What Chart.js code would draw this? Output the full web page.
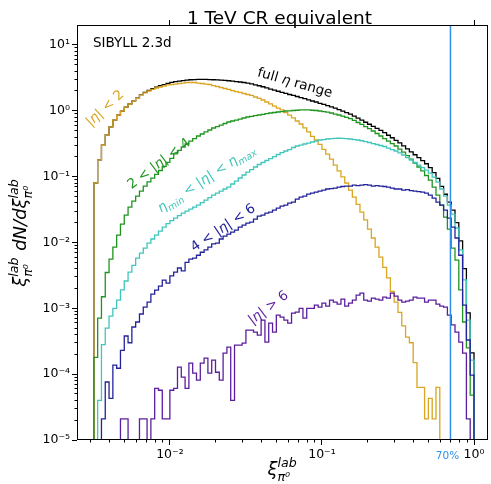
<!DOCTYPE html>
<html>
<head>
<meta charset="utf-8">
<script src="https://cdn.jsdelivr.net/npm/chart.js@4.4.1/dist/chart.umd.min.js"></script>
<style>
  html, body { margin: 0; padding: 0; background: #fff; }
  #wrap { width: 491px; height: 484px; }
</style>
</head>
<body>
<div id="wrap"><canvas id="xiChart" width="491" height="484"></canvas></div>
<script>
// histogram binning (log10 of xi), 100 bins
const BIN_START = -2.5;
const BIN_STEP = 0.025;

// xi dN/dxi per bin
const fullRange = [
  0.080, 0.18, 0.30, 0.43, 0.57, 0.72, 0.86, 0.99, 1.14, 1.27,
  1.42, 1.56, 1.76, 1.90, 2.04, 2.17, 2.29, 2.40, 2.50, 2.60,
  2.70, 2.77, 2.83, 2.88, 2.93, 2.96, 2.98, 3.00, 3.00, 3.00,
  2.98, 2.96, 2.94, 2.92, 2.89, 2.86, 2.82, 2.78, 2.74, 2.69,
  2.63, 2.56, 2.48, 2.40, 2.32, 2.23, 2.14, 2.06, 1.98, 1.91,
  1.84, 1.77, 1.71, 1.65, 1.59, 1.53, 1.47, 1.41, 1.36, 1.30,
  1.25, 1.20, 1.15, 1.10, 1.04, 0.99, 0.94, 0.89, 0.83, 0.775,
  0.72, 0.67, 0.625, 0.58, 0.54, 0.505, 0.465, 0.425, 0.39, 0.356,
  0.326, 0.294, 0.264, 0.238, 0.215, 0.194, 0.175, 0.157, 0.137, 0.115,
  0.094, 0.071, 0.054, 0.041, 0.031, 0.020, 0.0106, 0.0040, 8.5e-4, 2.1e-4
];
const etaLt2 = [
  0.080, 0.18, 0.30, 0.43, 0.57, 0.72, 0.86, 0.99, 1.14, 1.27,
  1.41, 1.54, 1.74, 1.87, 2.00, 2.11, 2.22, 2.30, 2.38, 2.47,
  2.51, 2.55, 2.60, 2.64, 2.69, 2.69, 2.69, 2.64, 2.60, 2.55,
  2.51, 2.42, 2.34, 2.26, 2.18, 2.11, 2.03, 1.96, 1.90, 1.83,
  1.77, 1.71, 1.62, 1.54, 1.46, 1.36, 1.27, 1.18, 1.10, 1.03,
  0.94, 0.86, 0.78, 0.70, 0.63, 0.55, 0.48, 0.41, 0.36, 0.31,
  0.26, 0.22, 0.185, 0.15, 0.122, 0.099, 0.080, 0.0625, 0.049, 0.038,
  0.029, 0.022, 0.016, 0.0117, 0.0085, 0.0060, 0.0042, 0.0029, 0.0018, 0.00124,
  8.7e-4, 5.4e-4, 3.65e-4, 3.0e-4, 1.5e-4, 6.3e-5, 6.3e-5, 2.1e-5, 4.3e-5, 2.1e-5,
  6.3e-5, 0, 0, 0, 0, 0, 0, 0, 0, 0
];
const eta2to4 = [
  1.8e-4, 7.1e-4, 1.5e-3, 3.5e-3, 5.6e-3, 8.5e-3, 0.0129, 0.019, 0.026, 0.0345,
  0.0426, 0.0507, 0.0604, 0.072, 0.083, 0.095, 0.108, 0.124, 0.143, 0.165,
  0.19, 0.222, 0.25, 0.282, 0.313, 0.347, 0.379, 0.414, 0.444, 0.477,
  0.511, 0.548, 0.577, 0.608, 0.641, 0.676, 0.70, 0.724, 0.75, 0.778,
  0.805, 0.825, 0.845, 0.863, 0.885, 0.904, 0.926, 0.942, 0.959, 0.975,
  0.993, 1.00, 1.01, 1.02, 1.03, 1.03, 1.03, 1.02, 1.01, 0.993,
  0.975, 0.953, 0.926, 0.893, 0.863, 0.833, 0.797, 0.758, 0.713, 0.664,
  0.62, 0.577, 0.538, 0.493, 0.452, 0.414, 0.379, 0.347, 0.318, 0.292,
  0.262, 0.236, 0.209, 0.185, 0.161, 0.140, 0.122, 0.104, 0.0887, 0.0695,
  0.0525, 0.037, 0.0243, 0.016, 8.2e-3, 5.4e-3, 1.9e-3, 6.2e-4, 2.5e-4, 4.8e-5
];
const etaAccept = [
  0, 4.0e-5, 2.8e-4, 5.0e-4, 7.6e-4, 1.0e-3, 1.33e-3, 1.9e-3, 2.6e-3, 3.55e-3,
  4.5e-3, 5.8e-3, 6.9e-3, 8.2e-3, 9.8e-3, 0.0113, 0.0129, 0.0149, 0.0171, 0.0194,
  0.0215, 0.0235, 0.0256, 0.028, 0.030, 0.0322, 0.0345, 0.037, 0.0404, 0.044,
  0.0481, 0.0525, 0.0563, 0.0604, 0.0649, 0.0695, 0.0773, 0.0857, 0.0953, 0.106,
  0.117, 0.128, 0.140, 0.153, 0.164, 0.176, 0.188, 0.202, 0.217, 0.232,
  0.245, 0.258, 0.277, 0.292, 0.302, 0.313, 0.324, 0.336, 0.347, 0.36,
  0.366, 0.373, 0.379, 0.382, 0.383, 0.382, 0.379, 0.373, 0.366, 0.36,
  0.351, 0.341, 0.33, 0.318, 0.308, 0.297, 0.287, 0.272, 0.258, 0.245,
  0.229, 0.213, 0.195, 0.179, 0.164, 0.150, 0.137, 0.126, 0.113, 0.0986,
  0.0828, 0.0649, 0.0507, 0.037, 0.027, 0.0166, 7.7e-3, 2.7e-3, 6.6e-4, 1.63e-4
];
const eta4to6 = [
  0, 0, 2.1e-5, 7.6e-5, 4.3e-5, 1.37e-4, 1.23e-4, 2.3e-4, 3.8e-4, 3.0e-4,
  5.2e-4, 6.2e-4, 8.2e-4, 1.04e-3, 1.24e-3, 1.64e-3, 1.89e-3, 2.17e-3, 2.69e-3, 2.42e-3,
  3.1e-3, 3.55e-3, 4.1e-3, 3.7e-3, 5.0e-3, 5.6e-3, 5.8e-3, 6.4e-3, 7.1e-3, 7.7e-3,
  8.5e-3, 9.5e-3, 9.8e-3, 0.0113, 0.0125, 0.0134, 0.0144, 0.0154, 0.0171, 0.0184,
  0.0197, 0.0204, 0.0227, 0.0252, 0.026, 0.028, 0.029, 0.031, 0.0333, 0.0357,
  0.037, 0.0397, 0.0411, 0.0457, 0.049, 0.0507, 0.0544, 0.0563, 0.0583, 0.0604,
  0.0625, 0.0649, 0.0659, 0.0671, 0.0695, 0.0708, 0.072, 0.072, 0.0745, 0.0732,
  0.0745, 0.0758, 0.0745, 0.072, 0.0732, 0.072, 0.0708, 0.0695, 0.0671, 0.0649,
  0.0649, 0.0625, 0.0637, 0.0615, 0.0604, 0.0594, 0.0583, 0.0563, 0.0525, 0.0473,
  0.0411, 0.037, 0.031, 0.0235, 0.0171, 0.0117, 6.4e-3, 1.12e-3, 3.3e-4, 9.7e-5
];
const etaGt6 = [
  0, 0, 0, 0, 0, 0, 0, 2.1e-5, 2.1e-5, 0,
  0, 0, 2.1e-5, 2.1e-5, 0, 2.1e-5, 6.1e-5, 5.7e-5, 2.1e-5, 2.1e-5,
  5.7e-5, 6.1e-5, 1.28e-4, 9.0e-5, 6.1e-5, 1.47e-4, 1.04e-4, 8.1e-5, 1.47e-4, 1.75e-4,
  1.04e-4, 1.63e-4, 1.07e-4, 8.1e-5, 2.08e-4, 2.57e-4, 4.0e-5, 2.76e-4, 2.76e-4, 2.96e-4,
  4.67e-4, 4.67e-4, 4.35e-4, 3.92e-4, 6.6e-4, 3.06e-4, 5.96e-4, 4.35e-4, 7.9e-4, 7.35e-4,
  6.6e-4, 5.96e-4, 8.45e-4, 8.75e-4, 1.0e-3, 7.1e-4, 1.0e-3, 1.0e-3, 1.12e-3, 1.04e-3,
  1.2e-3, 1.08e-3, 1.33e-3, 1.24e-3, 1.16e-3, 1.38e-3, 1.08e-3, 1.2e-3, 1.33e-3, 1.59e-3,
  1.70e-3, 1.33e-3, 1.29e-3, 1.43e-3, 1.38e-3, 1.33e-3, 1.48e-3, 1.43e-3, 1.70e-3, 1.53e-3,
  1.33e-3, 1.24e-3, 1.29e-3, 1.33e-3, 1.48e-3, 1.43e-3, 1.43e-3, 1.24e-3, 1.33e-3, 1.33e-3,
  1.16e-3, 1.08e-3, 1.04e-3, 7.9e-4, 5.6e-4, 4.35e-4, 3.06e-4, 2.08e-4, 2.1e-5, 0
];

const cutXi = 0.7;
const cutLabel = '70%';

const xMajorTicks = [0.01, 0.1, 1];
const xTickLabels = ['10⁻²', '10⁻¹', '10⁰'];
const xMinorTicks = [0.003, 0.004, 0.005, 0.006, 0.007, 0.008, 0.009,
  0.02, 0.03, 0.04, 0.05, 0.06, 0.07, 0.08, 0.09,
  0.2, 0.3, 0.4, 0.5, 0.6, 0.7, 0.8, 0.9];
const xTopTicks = [0.01, 1];
const yMajorTicks = [1e-5, 1e-4, 1e-3, 1e-2, 1e-1, 1, 10];
const yTickLabels = ['10⁻⁵', '10⁻⁴', '10⁻³', '10⁻²', '10⁻¹', '10⁰', '10¹'];
const yMinorTicks = [1e-5, 1e-4, 1e-3, 1e-2, 1e-1, 1]
  .flatMap(d => [2, 3, 4, 5, 6, 7, 8, 9].map(m => m * d));

const X_MIN = 0.00245, X_MAX = 1.236;
const Y_MIN = 1e-5, Y_MAX = 20.1;
const Y_FLOOR = 1e-7; // empty bins drop below the axis, like a step histogram

const colFull = '#000000';
const colLt2 = '#daa520';
const col2to4 = '#1f951f';
const colAcc = '#3fc6bb';
const col4to6 = '#23239b';
const colGt6 = '#5b1f9e';
const colCut = '#2e8fea';

const FONT = 'DejaVu Sans';
Chart.defaults.font.family = FONT;

const edges = Array.from({ length: fullRange.length + 1 }, (_, i) => Math.pow(10, BIN_START + BIN_STEP * i));

function histPoints(values) {
  const pts = [{ x: edges[0], y: Y_FLOOR }];
  values.forEach((v, i) => pts.push({ x: edges[i], y: v > 0 ? v : Y_FLOOR }));
  pts.push({ x: edges[values.length], y: Y_FLOOR });
  return pts;
}

function histSet(values, color) {
  return {
    data: histPoints(values),
    borderColor: color,
    borderWidth: 1.3,
    stepped: 'before',
    pointRadius: 0,
    fill: false,
    xAxisID: 'x',
    yAxisID: 'y'
  };
}

// --- mathtext-like rich text: segments [text, mode], mode '' | 'i' | 'sup' | 'sub'
function segFont(mode, fs) {
  const small = mode === 'sup' || mode === 'sub';
  return (mode ? 'italic ' : '') + (small ? fs * 0.7 : fs) + 'px "' + FONT + '"';
}
function drawRich(ctx, segs, fs, cx, cy, angle, color, align) {
  const items = [];
  let x = 0;
  for (let i = 0; i < segs.length; i++) {
    const [t, mode] = segs[i];
    const font = segFont(mode, fs);
    ctx.font = font;
    const w = ctx.measureText(t).width;
    const dy = mode === 'sup' ? -0.45 * fs : mode === 'sub' ? 0.28 * fs : 0;
    items.push({ t, font, x, dy });
    if (mode === 'sup' && segs[i + 1] && segs[i + 1][1] === 'sub') {
      const f2 = segFont('sub', fs);
      ctx.font = f2;
      const w2 = ctx.measureText(segs[i + 1][0]).width;
      items.push({ t: segs[i + 1][0], font: f2, x, dy: 0.32 * fs });
      x += Math.max(w, w2) + 1;
      i++;
    } else {
      x += w;
    }
  }
  const x0 = align === 'left' ? 0 : -x / 2;
  ctx.save();
  ctx.translate(cx, cy);
  ctx.rotate(angle * Math.PI / 180);
  ctx.fillStyle = color;
  ctx.textAlign = 'left';
  ctx.textBaseline = 'alphabetic';
  items.forEach(it => {
    ctx.font = it.font;
    ctx.fillText(it.t, x0 + it.x, it.dy + 0.36 * fs);
  });
  ctx.restore();
}

// curve labels, anchored in data coordinates
const curveLabels = [
  { segs: [['full ', ''], ['η', 'i'], [' range', '']], x: 0.0667, y: 2.74, angle: 16, color: colFull },
  { segs: [['|', ''], ['η', 'i'], ['| < 2', '']], x: 0.0037, y: 1.12, angle: -43, color: colLt2 },
  { segs: [['2 < |', ''], ['η', 'i'], ['| < 4', '']], x: 0.0084, y: 0.162, angle: -37, color: col2to4 },
  { segs: [['η', 'i'], ['min', 'sub'], [' < |', ''], ['η', 'i'], ['| < ', ''], ['η', 'i'], ['max', 'sub']], x: 0.0172, y: 0.096, angle: -33, color: colAcc },
  { segs: [['4 < |', ''], ['η', 'i'], ['| < 6', '']], x: 0.0222, y: 0.0172, angle: -34, color: col4to6 },
  { segs: [['|', ''], ['η', 'i'], ['| > 6', '']], x: 0.044, y: 1.05e-3, angle: -37, color: colGt6 }
];
const xiSegs = [['ξ', 'i'], ['lab', 'sup'], ['π⁰', 'sub']];

const textLayer = {
  id: 'textLayer',
  afterDatasetsDraw(chart) {
    const { ctx, chartArea: a, scales } = chart;
    ctx.save();
    // axes frame on top of the histograms
    ctx.strokeStyle = '#000';
    ctx.lineWidth = 1;
    ctx.strokeRect(Math.round(a.left) + 0.5, Math.round(a.top) + 0.5,
      Math.round(a.right - a.left) - 1, Math.round(a.bottom - a.top) - 1);

    curveLabels.forEach(l => {
      drawRich(ctx, l.segs, 13.5, scales.x.getPixelForValue(l.x), scales.y.getPixelForValue(l.y), l.angle, l.color);
    });

    ctx.fillStyle = '#000';
    ctx.font = '13.5px "' + FONT + '"';
    ctx.textAlign = 'left';
    ctx.textBaseline = 'alphabetic';
    ctx.fillText('SIBYLL 2.3d', a.left + 16, a.top + 22);

    ctx.font = '18.5px "' + FONT + '"';
    ctx.textAlign = 'center';
    ctx.fillText('1 TeV CR equivalent', (a.left + a.right) / 2 - 3, 24);

    ctx.fillStyle = colCut;
    ctx.font = '10.5px "' + FONT + '"';
    ctx.fillText(cutLabel, scales.x.getPixelForValue(cutXi) - 3, a.bottom + 19);

    drawRich(ctx, xiSegs, 18, (a.left + a.right) / 2, 469, 0, '#000');
    drawRich(ctx, xiSegs.concat([[' dN/dξ', 'i'], ['lab', 'sup'], ['π⁰', 'sub']]), 18,
      20, (a.top + a.bottom) / 2, -90, '#000');
    ctx.restore();
  }
};

function tickAxis(position, ticks, labels, tickLength, weight, size) {
  const horizontal = position === 'bottom' || position === 'top';
  return {
    type: 'logarithmic',
    position,
    weight,
    min: horizontal ? X_MIN : Y_MIN,
    max: horizontal ? X_MAX : Y_MAX,
    border: { display: false },
    grid: { drawOnChartArea: false, drawTicks: true, tickLength, color: '#000', lineWidth: 1 },
    afterBuildTicks: s => { s.ticks = ticks.map(v => ({ value: v })); },
    afterFit: s => { if (horizontal) s.height = size; else s.width = size; },
    ticks: {
      display: !!labels,
      autoSkip: false,
      maxRotation: 0,
      padding: 2,
      color: '#000',
      font: { size: 12.5 },
      callback: (v, i) => labels ? labels[i] : ''
    }
  };
}

new Chart(document.getElementById('xiChart'), {
  type: 'line',
  data: {
    datasets: [
      {
        data: [{ x: cutXi, y: Y_MIN }, { x: cutXi, y: Y_MAX }],
        borderColor: colCut, borderWidth: 1.5, pointRadius: 0, xAxisID: 'x', yAxisID: 'y'
      },
      histSet(etaGt6, colGt6),
      histSet(eta4to6, col4to6),
      histSet(etaAccept, colAcc),
      histSet(eta2to4, col2to4),
      histSet(etaLt2, colLt2),
      histSet(fullRange, colFull)
    ]
  },
  options: {
    responsive: false,
    animation: false,
    events: [],
    layout: { padding: { top: 25, right: 3, left: 0, bottom: 0 } },
    plugins: { legend: { display: false }, tooltip: { enabled: false } },
    scales: {
      x: tickAxis('bottom', xMajorTicks, xTickLabels, 5, 1, 44),
      xm: tickAxis('bottom', xMinorTicks, null, 2.5, 0, 0),
      xt: tickAxis('top', xTopTicks, null, 5, 0, 0),
      y: tickAxis('left', yMajorTicks, yTickLabels, 5, 1, 77),
      ym: tickAxis('left', yMinorTicks, null, 2.5, 0, 0)
    }
  },
  plugins: [textLayer]
});
</script>
</body>
</html>
